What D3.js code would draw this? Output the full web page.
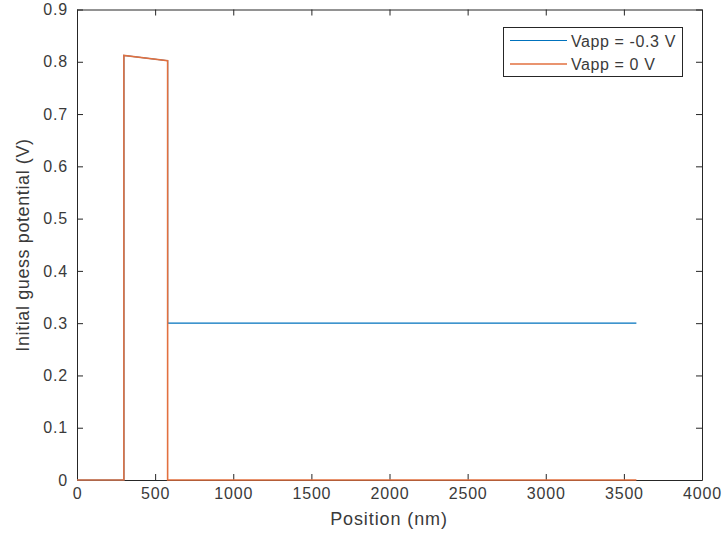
<!DOCTYPE html>
<html><head><meta charset="utf-8">
<script src="https://cdn.jsdelivr.net/npm/d3@7"></script>
<style>body{margin:0;background:#fff}svg{display:block}text{font-family:"Liberation Sans",Arial,sans-serif}</style>
</head><body><svg id="c" width="724" height="543"></svg>
<script>
// Data
const seriesNames = ["Vapp = -0.3 V", "Vapp = 0 V"];
const colors = ["#0072BD", "#E2703F"];
const posBlue = [0, 300, 300, 580, 580, 3580];
const valBlue = [0, 0, 0.812, 0.802, 0.3, 0.3];
const posOrange = [0, 300, 300, 580, 580, 3580];
const valOrange = [0, 0, 0.812, 0.802, 0, 0];
const xTicks = [0, 500, 1000, 1500, 2000, 2500, 3000, 3500, 4000];
const yTicks = [0, 0.1, 0.2, 0.3, 0.4, 0.5, 0.6, 0.7, 0.8, 0.9];

const svg = d3.select("#c");
const L = 77, R = 702, T = 9.5, B = 480;
const x = d3.scaleLinear().domain([0, 4000]).range([L, R]);
const y = d3.scaleLinear().domain([0, 0.9]).range([B, T]);
const axisColor = "#262626";
const textColor = "#3a3a3a";
const tickFont = "16px";

// axes
const gx = svg.append("g").attr("transform", `translate(0,${B})`)
  .call(d3.axisBottom(x).tickValues(xTicks).tickSizeInner(-6).tickSizeOuter(0).tickPadding(8).tickFormat(d3.format("d")));
const gxt = svg.append("g").attr("transform", `translate(0,${T})`)
  .call(d3.axisTop(x).tickValues(xTicks).tickSizeInner(-6).tickSizeOuter(0).tickFormat(""));
const gy = svg.append("g").attr("transform", `translate(${L},0)`)
  .call(d3.axisLeft(y).tickValues(yTicks).tickSizeInner(-6).tickSizeOuter(0).tickPadding(9).tickFormat(d => d === 0 ? "0" : d3.format(".1f")(d)));
const gyr = svg.append("g").attr("transform", `translate(${R},0)`)
  .call(d3.axisRight(y).tickValues(yTicks).tickSizeInner(-6).tickSizeOuter(0).tickFormat(""));
[gx, gxt, gy, gyr].forEach(g => {
  g.selectAll("path.domain").attr("stroke", axisColor).attr("stroke-width", 1);
  g.selectAll(".tick line").attr("stroke", axisColor);
  g.selectAll(".tick text").attr("fill", textColor).style("font-size", tickFont)
    .style("letter-spacing", "0.8px").style("font-family", "'Liberation Sans',Arial,sans-serif");
});

// lines
const line = d3.line().x(d => x(d[0])).y(d => y(d[1]));
const dataBlue = posBlue.map((p, i) => [p, valBlue[i]]);
const dataOrange = posOrange.map((p, i) => [p, valOrange[i]]);
svg.append("path").datum(dataBlue).attr("d", line).attr("fill", "none").attr("stroke", colors[0]).attr("stroke-width", 1.2);
svg.append("path").datum(dataOrange).attr("d", line).attr("fill", "none").attr("stroke", colors[1])
  .attr("stroke-width", 1.6);

// labels
svg.append("text").attr("x", 389).attr("y", 525).attr("text-anchor", "middle")
  .attr("fill", textColor).style("font-size", "18px").style("letter-spacing", "0.9px").text("Position (nm)");
svg.append("text").attr("transform", `translate(28.5,245) rotate(-90)`).attr("text-anchor", "middle")
  .attr("fill", textColor).style("font-size", "18px").style("letter-spacing", "0.6px").text("Initial guess potential (V)");

// legend
const lg = svg.append("g");
lg.append("rect").attr("x", 503.5).attr("y", 27.5).attr("width", 179).attr("height", 49)
  .attr("fill", "#fff").attr("stroke", axisColor).attr("stroke-width", 1);
seriesNames.forEach((n, i) => {
  const yy = 40.5 + i * 23.5;
  lg.append("line").attr("x1", 510).attr("x2", 567).attr("y1", yy).attr("y2", yy)
    .attr("stroke", colors[i]).attr("stroke-width", i ? 1.5 : 1.2);
  lg.append("text").attr("x", 571).attr("y", yy + 6).attr("fill", textColor)
    .style("font-size", "16px").style("letter-spacing", "0.6px").text(n);
});
</script></body></html>
